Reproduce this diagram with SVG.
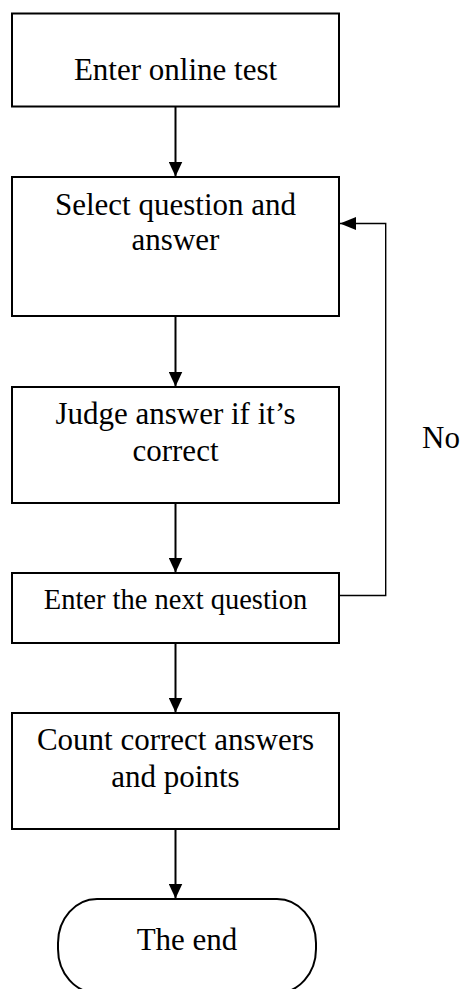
<svg xmlns="http://www.w3.org/2000/svg" width="468" height="989" viewBox="0 0 468 989">
<defs>
<style>
.box{fill:#fff;stroke:#000;stroke-width:2}
.t{font-family:"Liberation Serif","Times New Roman",serif;font-size:31px;fill:#000;text-anchor:middle}
.s{font-size:28.5px}
.c{fill:none;stroke:#000;stroke-width:2}
.fb{fill:none;stroke:#000;stroke-width:1.4}
</style>
<marker id="ah" viewBox="0 0 15 14" refX="15" refY="7" markerWidth="15" markerHeight="14" markerUnits="userSpaceOnUse" orient="auto">
<path d="M0,0 L15,7 L0,14 Z" fill="#000"/>
</marker>
<marker id="ah2" viewBox="0 0 16 13" refX="16" refY="6.5" markerWidth="16" markerHeight="13" markerUnits="userSpaceOnUse" orient="auto">
<path d="M0,0 L16,6.5 L0,13 Z" fill="#000"/>
</marker>
</defs>
<g id="connectors">
<line class="c" x1="175.5" y1="107" x2="175.5" y2="176.5" marker-end="url(#ah)"/>
<line class="c" x1="175.5" y1="316" x2="175.5" y2="386.5" marker-end="url(#ah)"/>
<line class="c" x1="175.5" y1="503" x2="175.5" y2="572.5" marker-end="url(#ah)"/>
<line class="c" x1="175.5" y1="643" x2="175.5" y2="712.5" marker-end="url(#ah)"/>
<line class="c" x1="175.5" y1="829" x2="175.5" y2="898.5" marker-end="url(#ah)"/>
<polyline class="fb" points="340,595.5 385.7,595.5 385.7,223.5 340,223.5" marker-end="url(#ah2)"/>
<text class="t" x="441" y="448">No</text>
</g>
<g id="n1">
<rect class="box" x="12" y="13.5" width="327" height="93"/>
<text class="t" x="175.5" y="80">Enter online test</text>
</g>
<g id="n2">
<rect class="box" x="12" y="177" width="327" height="139"/>
<text class="t" x="175.5" y="215">Select question and</text>
<text class="t" x="175.5" y="250">answer</text>
</g>
<g id="n3">
<rect class="box" x="12" y="387" width="327" height="116"/>
<text class="t" x="175.5" y="424">Judge answer if it’s</text>
<text class="t" x="175.5" y="461">correct</text>
</g>
<g id="n4">
<rect class="box" x="12" y="573" width="327" height="70"/>
<text class="t s" x="175.5" y="609">Enter the next question</text>
</g>
<g id="n5">
<rect class="box" x="12" y="713" width="327" height="116"/>
<text class="t" x="175.5" y="750">Count correct answers</text>
<text class="t" x="175.5" y="787">and points</text>
</g>
<g id="n6">
<path class="box" d="M97,899 L277,899 A39,44 0 0 1 316,943 L316,949 A39,44 0 0 1 277,993 L97,993 A39,44 0 0 1 58,949 L58,943 A39,44 0 0 1 97,899 Z"/>
<text class="t" x="187" y="950">The end</text>
</g>
</svg>
